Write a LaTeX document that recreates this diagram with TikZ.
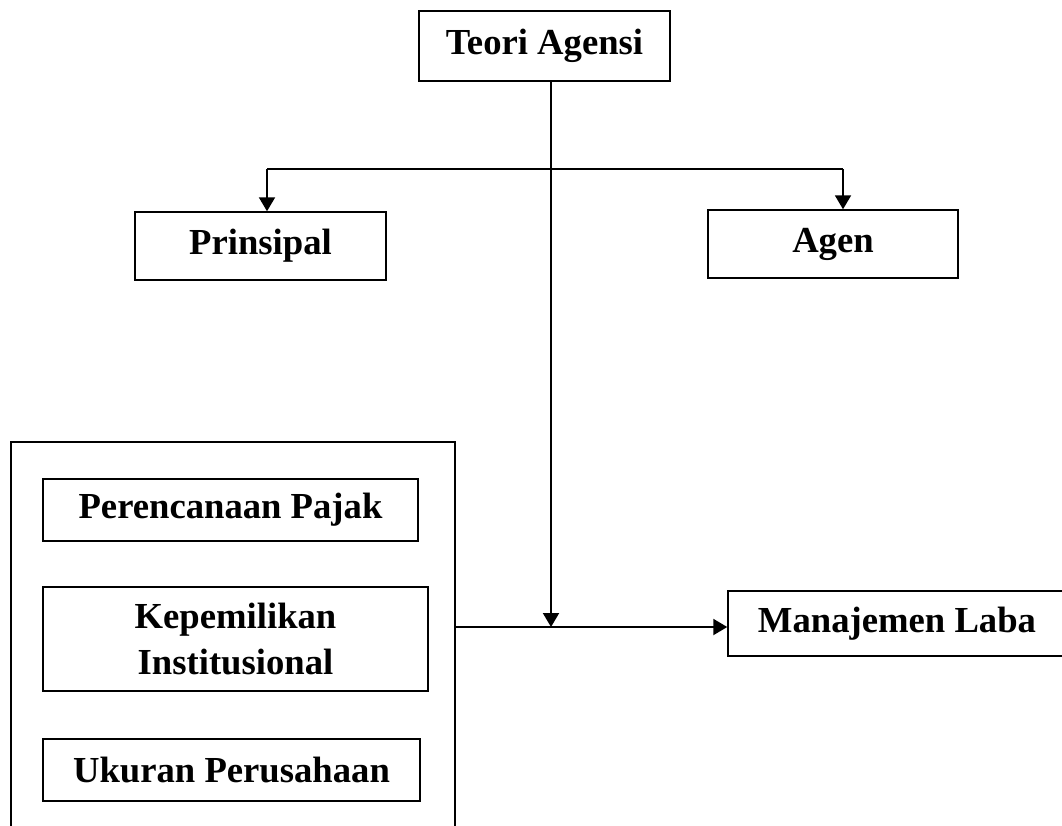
\documentclass[tikz,border=0pt]{standalone}
\usepackage{fontspec}
\setmainfont{Liberation Serif}
\usetikzlibrary{arrows.meta}
\begin{document}
\begin{tikzpicture}[x=0.75pt,y=-0.75pt,
  box/.style={draw, line width=1.1pt, align=center, inner sep=0pt,
    font=\fontsize{27.5}{34.5}\selectfont\bfseries},
  conn/.style={line width=1.5pt},
  arr/.style={line width=1.5pt, -{Triangle[length=10.5pt,width=12pt]}}]
\useasboundingbox (0,0) rectangle (1062,825);
\clip (0,0) rectangle (1062,825);
\fill[white] (0,0) rectangle (1062,825);
\node[box, minimum width=251*0.75pt, minimum height=70*0.75pt] (teori) at (544.5,46) {Teori Agensi};
\node[box, minimum width=251*0.75pt, minimum height=68*0.75pt] (prin) at (260.5,246) {Prinsipal};
\node[box, minimum width=250*0.75pt, minimum height=68*0.75pt] (agen) at (833,244) {Agen};
\node[draw, line width=1.5pt, minimum width=444*0.75pt, minimum height=420*0.75pt, inner sep=0pt] (grp) at (233,652) {};
\node[box, minimum width=375*0.75pt, minimum height=62*0.75pt] (pp) at (230.5,510) {Perencanaan Pajak};
\node[box, minimum width=385*0.75pt, minimum height=104*0.75pt] (ki) at (235.5,639) {Kepemilikan\\Institusional};
\node[box, minimum width=377*0.75pt, minimum height=62*0.75pt] (up) at (231.5,770) {Ukuran Perusahaan};
\node[box, minimum width=338*0.75pt, minimum height=65*0.75pt] (ml) at (897,623.5) {Manajemen Laba};
\coordinate (j) at (551,627);
\coordinate (h) at (551,169);
\coordinate (pa) at (267,169);
\coordinate (ag) at (843,169);
\draw[arr] (teori.south -| j) -- (j);
\draw[conn] (pa) -- (ag);
\draw[arr] (pa) -- (pa |- prin.north);
\draw[arr] (ag) -- (ag |- agen.north);
\draw[arr] (grp.east |- j) -- (j -| ml.west);
\end{tikzpicture}
\end{document}
